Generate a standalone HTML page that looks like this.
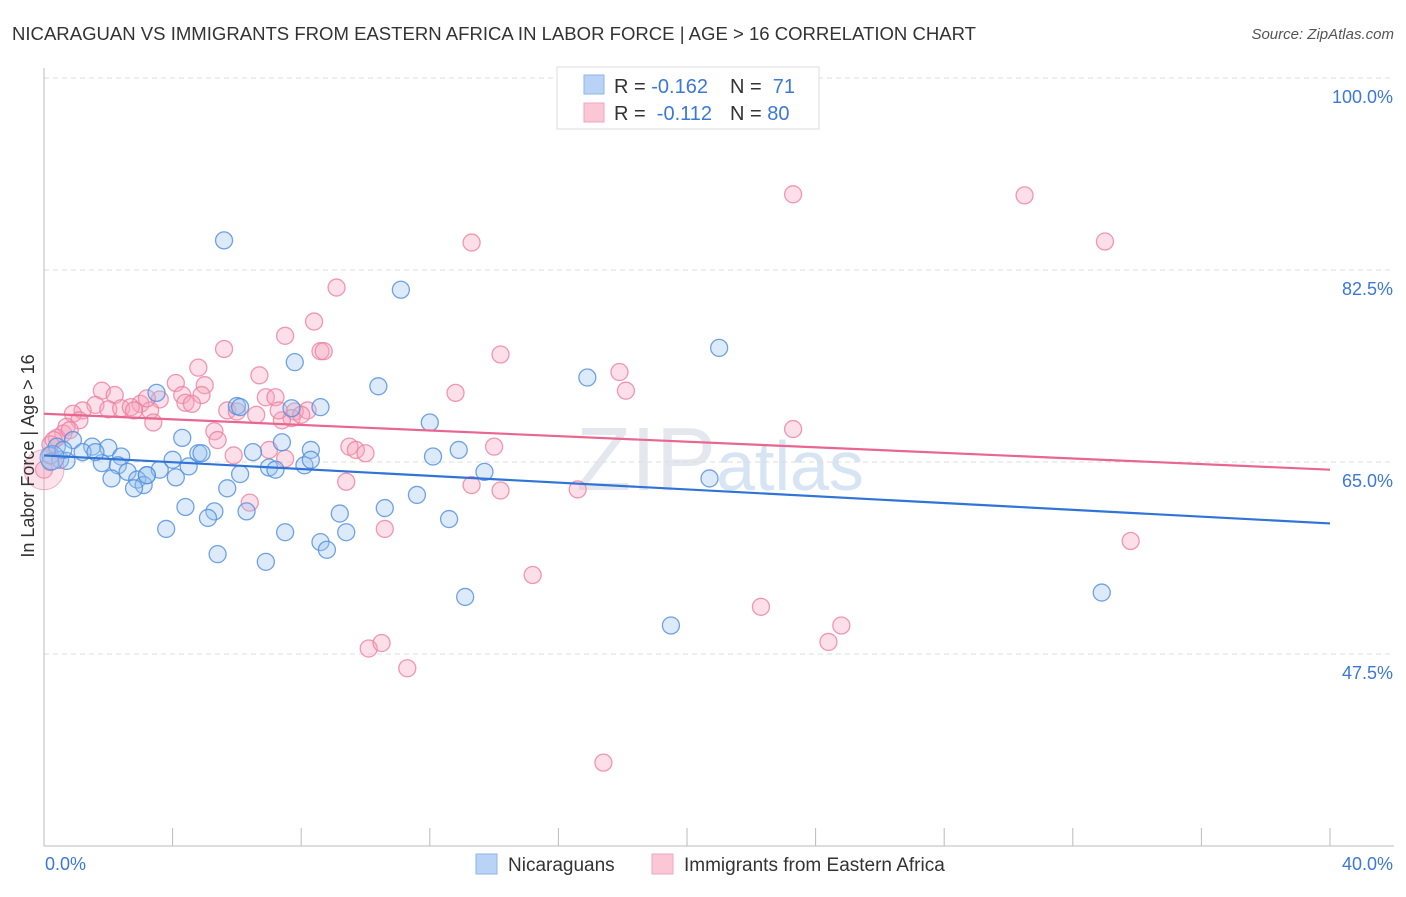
<!DOCTYPE html>
<html><head><meta charset="utf-8"><style>
body{margin:0;background:#fff;font-family:"Liberation Sans",sans-serif;}
svg text{font-family:"Liberation Sans",sans-serif;}
</style></head><body>
<svg id="chart" width="1406" height="892" xmlns="http://www.w3.org/2000/svg">
<text x="12" y="40" font-size="18" fill="#333" textLength="964" lengthAdjust="spacingAndGlyphs">NICARAGUAN VS IMMIGRANTS FROM EASTERN AFRICA IN LABOR FORCE | AGE &gt; 16 CORRELATION CHART</text>
<text x="1394" y="39" font-size="15" fill="#555" font-style="italic" text-anchor="end">Source: ZipAtlas.com</text>
<text x="720" y="490" font-size="90" fill="#e4e8ee" text-anchor="middle" font-family="Liberation Serif">ZIP<tspan fill="#d6e4f4" font-family="Liberation Sans" font-size="70">atlas</tspan></text>
<g id="grid"></g>
<g id="axes"></g>
<g id="points"></g>
<g id="trends"></g>
<text transform="translate(34,456) rotate(-90)" font-size="18" fill="#333" text-anchor="middle">In Labor Force | Age &gt; 16</text>
<g>
<rect x="557" y="67" width="262" height="62" fill="#fff" stroke="#ddd"/>
<rect x="584" y="75" width="20" height="19" fill="#b8d3f5" stroke="#8fb6ea"/>
<rect x="584" y="103" width="20" height="19" fill="#fbc6d6" stroke="#f2a5bd"/>
<text x="614" y="93" font-size="20" fill="#333">R = <tspan fill="#3b78d8">-0.162</tspan></text>
<text x="730" y="93" font-size="20" fill="#333">N = <tspan fill="#3b78d8">&#160;71</tspan></text>
<text x="614" y="120" font-size="20" fill="#333">R = <tspan fill="#3b78d8">&#160;-0.112</tspan></text>
<text x="730" y="120" font-size="20" fill="#333">N = <tspan fill="#3b78d8">80</tspan></text>
</g>
<g>
<rect x="476" y="854" width="21" height="20" fill="#b8d3f5" stroke="#8fb6ea"/>
<text x="508" y="871" font-size="19" fill="#333">Nicaraguans</text>
<rect x="652" y="854" width="21" height="20" fill="#fbc6d6" stroke="#f2a5bd"/>
<text x="684" y="871" font-size="19" fill="#333">Immigrants from Eastern Africa</text>
</g>
</svg>
<script>
const xTicks=[0,4,8,12,16,20,24,28,32,36,40];
const yGrid=[100,82.5,65,47.5];
const yGridLabels=["100.0%","82.5%","65.0%","47.5%"];
const blueX=[5.6,11.1,21.0,7.8,10.4,16.9,3.5,6.0,6.1,8.6,7.7,12.0,4.3,7.4,0.4,0.9,1.5,2.0,2.4,0.2,0.5,0.7,1.2,1.8,2.3,2.6,3.2,3.6,4.0,4.5,4.8,4.9,6.5,7.0,7.2,8.1,8.3,8.3,6.1,4.1,2.1,2.9,3.1,2.8,5.7,11.6,12.9,12.1,13.7,20.7,10.6,9.2,4.4,5.3,5.1,6.3,3.8,7.5,9.4,12.6,8.6,8.8,5.4,6.9,13.1,19.5,32.9,1.6,0.2,0.6,3.2];
const blueY=[85.2,80.7,75.4,74.1,71.9,72.7,71.3,70.1,70.0,70.0,69.9,68.6,67.2,66.8,66.4,67.0,66.4,66.3,65.5,65.6,65.2,65.1,65.9,64.9,64.7,64.1,63.8,64.3,65.2,64.6,65.8,65.8,65.9,64.5,64.3,64.7,66.1,65.2,63.9,63.6,63.5,63.4,62.9,62.6,62.6,62.0,66.1,65.5,64.1,63.5,60.8,60.3,60.9,60.5,59.9,60.5,58.9,58.6,58.6,59.8,57.7,57.0,56.6,55.9,52.7,50.1,53.1,65.9,65.0,66.1,63.8];
const pinkX=[23.3,30.5,13.3,33.0,9.1,8.4,7.5,5.6,8.6,8.7,14.2,4.8,6.7,17.9,4.1,5.0,1.8,2.2,12.8,18.1,3.6,4.3,6.9,4.9,7.2,3.0,3.3,4.4,4.6,5.7,6.0,6.6,7.8,8.2,7.7,8.0,1.6,1.2,0.9,2.0,2.4,2.7,2.8,3.4,1.1,0.7,0.6,0.4,5.3,5.4,7.0,7.5,23.3,9.5,9.7,10.0,14.0,9.4,13.3,14.2,16.6,6.4,10.6,33.8,15.2,22.3,24.8,24.4,10.1,10.5,11.3,17.4,0.2,0.3,0.8,5.9,3.2,7.4,7.3,0.0];
const pinkY=[89.4,89.3,85.0,85.1,80.9,77.8,76.5,75.3,75.1,75.1,74.8,73.6,72.9,73.2,72.2,72.0,71.5,71.1,71.3,71.5,70.7,71.1,70.9,71.1,70.9,70.3,69.7,70.4,70.3,69.7,69.6,69.3,69.6,69.7,69.0,69.3,70.2,69.7,69.4,69.8,69.9,70.0,69.7,68.6,68.8,68.2,67.6,67.2,67.8,67.0,66.1,65.3,68.0,66.4,66.1,65.8,66.4,63.2,62.9,62.4,62.5,61.3,58.9,57.8,54.7,51.8,50.1,48.6,48.0,48.5,46.2,37.6,66.6,67.0,67.9,65.6,70.8,68.8,69.7,64.3];
const blueTrend=[65.6,59.4];
const pinkTrend=[69.4,64.3];
const trendX=[0,40];

const NS="http://www.w3.org/2000/svg";
const X0=44,X1=1330,Y100=78,YPX=192/17.5;
function sx(v){return X0+(v/40)*(X1-X0);}
function sy(v){return Y100+(100-v)*YPX;}
function mk(tag,attrs,parent){const e=document.createElementNS(NS,tag);for(const k in attrs)e.setAttribute(k,attrs[k]);parent.appendChild(e);return e;}
const grid=document.getElementById('grid'),axes=document.getElementById('axes'),pts=document.getElementById('points'),tr=document.getElementById('trends');
yGrid.forEach((v,i)=>{
  const l=mk('line',{x1:X0,x2:1394,y1:sy(v),y2:sy(v),stroke:'#ddd','stroke-dasharray':'5,4'},grid);
  
  
  const t=mk('text',{x:1393,y:sy(v)+25,'font-size':18,fill:'#3b78d8','text-anchor':'end'},grid);
  t.textContent=yGridLabels[i];
  
  
});
const ax=mk('line',{x1:X0,x2:X0,y1:68,y2:846,stroke:'#bbb'},axes);


const bx=mk('line',{x1:X0,x2:1394,y1:846,y2:846,stroke:'#bbb'},axes);


xTicks.forEach(v=>{
  const t=mk('line',{x1:sx(v),x2:sx(v),y1:828,y2:846,stroke:'#bbb'},axes);
  
  
});
const xl0=mk('text',{x:45,y:870,'font-size':18,fill:'#3b78d8'},axes);xl0.textContent=xTicks[0].toFixed(1)+'%';


const xl1=mk('text',{x:1393,y:870,'font-size':18,fill:'#3b78d8','text-anchor':'end'},axes);xl1.textContent=xTicks[xTicks.length-1].toFixed(1)+'%';


function drawPts(xs,ys,fill,stroke,name){
  xs.forEach((x,i)=>{
    const c=mk('circle',{cx:sx(x),cy:sy(ys[i]),r:8.5,fill:fill,'fill-opacity':0.35,stroke:stroke,'stroke-width':1.3,'stroke-opacity':0.8},pts);
    
    
  });
}
drawPts(pinkX,pinkY,'#f6a3bd','#ee7fa0','point-eastern-africa');
drawPts(blueX,blueY,'#9cc2ef','#4f8ddf','point-nicaraguan');
const bigP=mk('circle',{cx:sx(0),cy:sy(64.3),r:20,fill:'#f6a3bd','fill-opacity':0.3,stroke:'#ee7fa0','stroke-opacity':0.6},pts);


const bigB=mk('circle',{cx:sx(0.25),cy:sy(65.4),r:12,fill:'#9cc2ef','fill-opacity':0.4,stroke:'#4f8ddf','stroke-opacity':0.7},pts);


const tb=mk('line',{x1:sx(trendX[0]),y1:sy(blueTrend[0]),x2:sx(trendX[1]),y2:sy(blueTrend[1]),stroke:'#2f74d6','stroke-width':2.2},tr);


const tp=mk('line',{x1:sx(trendX[0]),y1:sy(pinkTrend[0]),x2:sx(trendX[1]),y2:sy(pinkTrend[1]),stroke:'#e8668f','stroke-width':2.2},tr);


</script>
</body></html>
